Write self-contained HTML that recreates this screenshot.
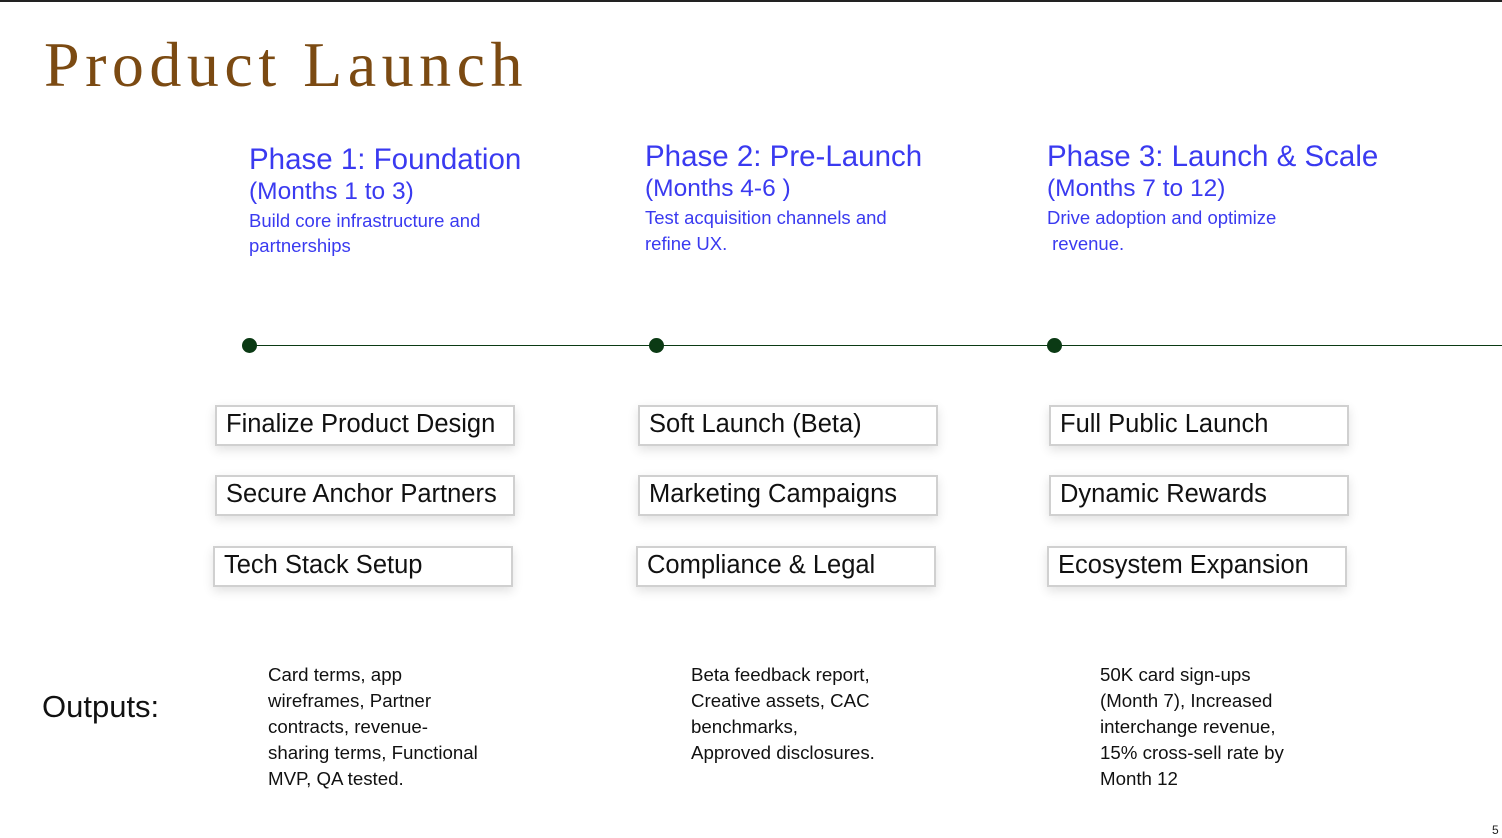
<!DOCTYPE html>
<html><head><meta charset="utf-8"><style>
body{margin:0;width:1502px;height:838px;background:#fff;position:relative;overflow:hidden;font-family:"Liberation Sans",sans-serif}
.a{position:absolute;white-space:nowrap}
.title{left:44px;top:28px;font-family:"Liberation Serif",serif;font-size:64px;color:#7b4a12;letter-spacing:5.5px}
.ph{color:#3a3af0;font-size:29.5px;line-height:32px}
.ph2{color:#3a3af0;font-size:24.5px;line-height:32px}
.ph3{color:#3a3af0;font-size:18.5px;line-height:25px}
.box{position:absolute;width:287px;height:37px;border:2px solid #d0d0d0;box-shadow:0 4px 10px rgba(0,0,0,0.12);background:#fff;font-size:25.5px;line-height:34px;padding-left:9px;box-sizing:content-box;color:#111}
.dot{position:absolute;width:15px;height:15px;border-radius:50%;background:#0b3a14}
.out{position:absolute;font-size:18.7px;line-height:26px;color:#111}
</style></head><body>
<div style="position:absolute;left:0;top:0;width:1502px;height:2px;background:#222"></div>
<div class="a title">Product Launch</div>

<div class="a" style="left:249px;top:144px"><div class="ph">Phase 1: Foundation</div><div class="ph2">(Months 1 to 3)</div><div class="ph3">Build core infrastructure and<br>partnerships</div></div>
<div class="a" style="left:645px;top:141px"><div class="ph">Phase 2: Pre-Launch</div><div class="ph2">(Months 4-6 )</div><div class="ph3" style="line-height:26px">Test acquisition channels and<br>refine UX.</div></div>
<div class="a" style="left:1047px;top:141px"><div class="ph">Phase 3: Launch &amp; Scale</div><div class="ph2">(Months 7 to 12)</div><div class="ph3" style="line-height:26px">Drive adoption and optimize<br>&nbsp;revenue.</div></div>

<div style="position:absolute;left:249px;top:345px;width:1253px;height:1px;background:#0b3a14"></div>
<div class="dot" style="left:242px;top:338px"></div>
<div class="dot" style="left:649px;top:338px"></div>
<div class="dot" style="left:1047px;top:338px"></div>

<div class="box" style="left:215px;top:405px">Finalize Product Design</div>
<div class="box" style="left:215px;top:475px">Secure Anchor Partners</div>
<div class="box" style="left:213px;top:546px">Tech Stack Setup</div>
<div class="box" style="left:638px;top:405px">Soft Launch (Beta)</div>
<div class="box" style="left:638px;top:475px">Marketing Campaigns</div>
<div class="box" style="left:636px;top:546px">Compliance &amp; Legal</div>
<div class="box" style="left:1049px;top:405px">Full Public Launch</div>
<div class="box" style="left:1049px;top:475px">Dynamic Rewards</div>
<div class="box" style="left:1047px;top:546px">Ecosystem Expansion</div>

<div class="a" style="left:42px;top:689px;font-size:31px;color:#111">Outputs:</div>
<div class="out" style="left:268px;top:662px">Card terms, app<br>wireframes, Partner<br>contracts, revenue-<br>sharing terms, Functional<br>MVP, QA tested.</div>
<div class="out" style="left:691px;top:662px">Beta feedback report,<br>Creative assets, CAC<br>benchmarks,<br>Approved disclosures.</div>
<div class="out" style="left:1100px;top:662px">50K card sign-ups<br>(Month 7), Increased<br>interchange revenue,<br>15% cross-sell rate by<br>Month 12</div>
<div class="a" style="left:1492px;top:823px;font-size:12px;color:#222">5</div>
</body></html>
